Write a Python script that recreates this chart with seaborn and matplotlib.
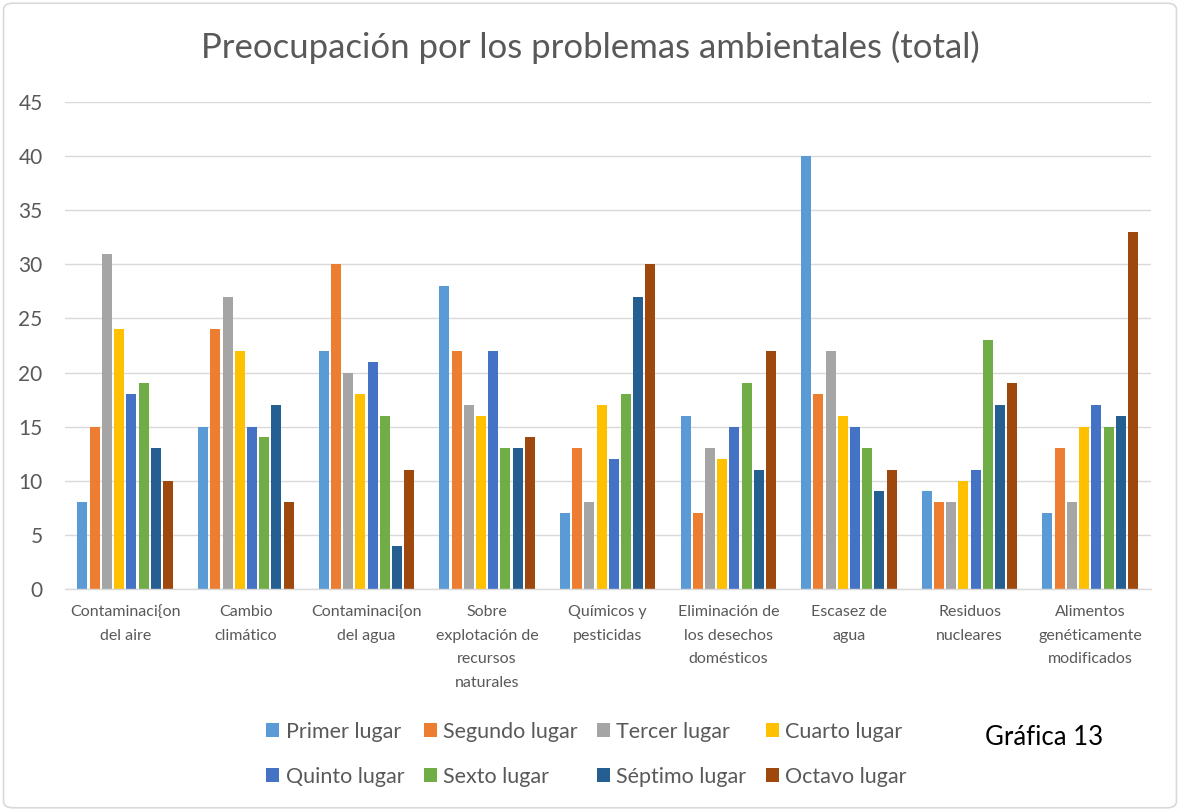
import matplotlib
matplotlib.use("Agg")
import matplotlib.pyplot as plt
from matplotlib.patches import FancyBboxPatch, Patch
import seaborn as sns
import pandas as pd

categories = ["Contaminaci{on\ndel aire", "Cambio\nclimático", "Contaminaci{on\ndel agua",
              "Sobre\nexplotación de\nrecursos\nnaturales", "Químicos y\npesticidas",
              "Eliminación de\nlos desechos\ndomésticos", "Escasez de\nagua",
              "Residuos\nnucleares", "Alimentos\ngenéticamente\nmodificados"]
series = ["Primer lugar", "Segundo lugar", "Tercer lugar", "Cuarto lugar",
          "Quinto lugar", "Sexto lugar", "Séptimo lugar", "Octavo lugar"]
primer = [8, 15, 22, 28, 7, 16, 40, 9, 7]
segundo = [15, 24, 30, 22, 13, 7, 18, 8, 13]
tercer = [31, 27, 20, 17, 8, 13, 22, 8, 8]
cuarto = [24, 22, 18, 16, 17, 12, 16, 10, 15]
quinto = [18, 15, 21, 22, 12, 15, 15, 11, 17]
sexto = [19, 14, 16, 13, 18, 19, 13, 23, 15]
septimo = [13, 17, 4, 13, 27, 11, 9, 17, 16]
octavo = [10, 8, 11, 14, 30, 22, 11, 19, 33]
yticks = [0, 5, 10, 15, 20, 25, 30, 35, 40, 45]
colors = ["#5B9BD5", "#ED7D31", "#A5A5A5", "#FFC000",
          "#4472C4", "#70AD47", "#255E91", "#9E480E"]

values = [primer, segundo, tercer, cuarto, quinto, sexto, septimo, octavo]
rows = []
for s, vals in zip(series, values):
    for c, v in zip(categories, vals):
        rows.append({"cat": c, "serie": s, "valor": v})
df = pd.DataFrame(rows)

sns.set_theme(style="white")
plt.rcParams['font.family'] = ['Lato', 'DejaVu Sans']
grey = "#595959"

fig = plt.figure(figsize=(11.8, 8.11), dpi=100)
ax = fig.add_axes([0.055, 0.274, 0.92, 0.6])

sns.barplot(data=df, x="cat", y="valor", hue="serie", order=categories,
            hue_order=series, palette=colors, width=0.81, gap=0.18,
            saturation=1, ax=ax, legend=False, edgecolor="none")

ax.set_ylim(0, 45)
ax.set_yticks(yticks)
ax.set_xlim(-0.5, len(categories) - 0.5)
ax.yaxis.grid(True, color="#D9D9D9", linewidth=1)
ax.set_axisbelow(True)
for sp in ["top", "right", "left"]:
    ax.spines[sp].set_visible(False)
ax.spines["bottom"].set_color("#D9D9D9")
ax.spines["bottom"].set_linewidth(1)
ax.set_xlabel("")
ax.set_ylabel("")
ax.tick_params(axis="y", length=0, labelsize=15, labelcolor=grey, pad=16)
ax.tick_params(axis="x", length=0, labelsize=11.5, labelcolor=grey, pad=12)
ax.set_xticks(range(len(categories)))
ax.set_xticklabels(categories, linespacing=1.85, va="top")

fig.text(0.5, 0.941, "Preocupación por los problemas ambientales (total)",
         ha="center", va="center", fontsize=25, color=grey)

handles = [Patch(facecolor=c, edgecolor="none") for c in colors]
order = [0, 4, 1, 5, 2, 6, 3, 7]
fig.legend([handles[i] for i in order], [series[i] for i in order],
           loc="center", bbox_to_anchor=(0.497, 0.070), ncol=4, frameon=False,
           fontsize=15.5, labelcolor=grey, handlelength=0.6, handleheight=0.6,
           handletextpad=0.3, columnspacing=0.9, labelspacing=1.15)

fig.text(0.885, 0.091, "Gráfica 13", ha="center", va="center", fontsize=18.5,
         color="black")

border = FancyBboxPatch((0.003, 0.004), 0.994, 0.992, boxstyle="round,pad=0,rounding_size=0.008",
                        transform=fig.transFigure, facecolor="none",
                        edgecolor="#D9D9D9", linewidth=1.2)
fig.patches.append(border)

fig.savefig("out.png", dpi=100)
